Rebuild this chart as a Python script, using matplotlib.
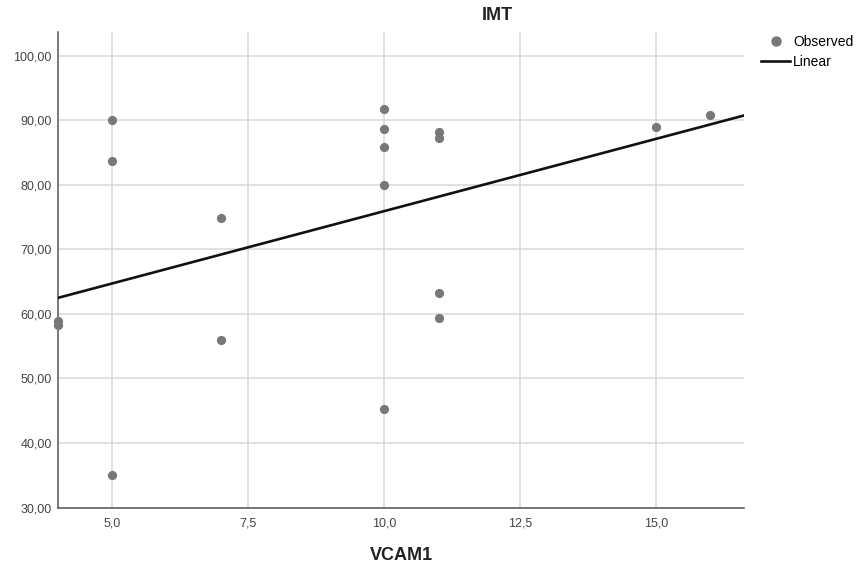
import numpy as np
import matplotlib
matplotlib.use("Agg")
import matplotlib.pyplot as plt
from matplotlib.lines import Line2D
from matplotlib.ticker import FuncFormatter

plt.rcParams['font.family'] = ['Liberation Sans', 'DejaVu Sans']

vcam1 = [4, 4, 5, 5, 5, 7, 7, 10, 10, 10, 10, 10, 11, 11, 11, 11, 15, 16]
imt = [58.3, 58.9, 90.0, 83.7, 35.1, 74.8, 55.9, 91.8, 88.65, 85.8, 79.9, 45.2,
       88.1, 87.3, 63.3, 59.4, 89.0, 90.8]
x_ticks = [5.0, 7.5, 10.0, 12.5, 15.0]
y_ticks = [30, 40, 50, 60, 70, 80, 90, 100]

W, H = 858, 565
fig = plt.figure(figsize=(W / 100, H / 100), dpi=100)
ax = fig.add_axes([58 / W, 1 - 507.5 / H, (744 - 58) / W, (507.5 - 32) / H])

xmin, xmax = 4.0, 16.62
ymin, ymax = 30.0, 103.65

ax.set_xlim(xmin, xmax)
ax.set_ylim(ymin, ymax)
ax.set_xticks(x_ticks)
ax.set_yticks(y_ticks)
ax.grid(True, color='#d9d9d9', linewidth=1.1)
ax.set_axisbelow(True)

ax.scatter(vcam1, imt, s=44, color='#787878', zorder=3, clip_on=False, linewidths=0)
slope, intercept = np.polyfit(vcam1, imt, 1)
xl = np.array([xmin, xmax])
ax.plot(xl, intercept + slope * xl, color='#111111', linewidth=1.9, zorder=4)

for s in ['top', 'right']:
    ax.spines[s].set_visible(False)
for s in ['left', 'bottom']:
    ax.spines[s].set_color('#555555')
    ax.spines[s].set_linewidth(1.1)
ax.tick_params(length=0, labelsize=9, labelcolor='#444444')
ax.tick_params(axis='y', pad=4.5)
ax.tick_params(axis='x', pad=7)
ax.xaxis.set_major_formatter(FuncFormatter(lambda v, p: f"{v:.1f}".replace('.', ',')))
ax.yaxis.set_major_formatter(FuncFormatter(lambda v, p: f"{v:.2f}".replace('.', ',')))

fig.text(497 / W, 1 - 16 / H, 'IMT', ha='center', va='center', fontsize=13,
         fontweight='bold', color='#222222')
fig.text(401 / W, 1 - 555 / H, 'VCAM1', ha='center', va='center', fontsize=13,
         fontweight='bold', color='#222222')

handles = [Line2D([], [], marker='o', linestyle='none', color='#787878', markersize=6.5),
           Line2D([], [], color='#111111', linewidth=1.9)]
fig.legend(handles, ['Observed', 'Linear'], loc='upper left', bbox_to_anchor=(761 / W, 1 - 35 / H),
           frameon=False, fontsize=10, handlelength=2.1, handletextpad=0.2,
           labelspacing=0.45, borderaxespad=0, borderpad=0)

fig.savefig('out.png', dpi=100)
